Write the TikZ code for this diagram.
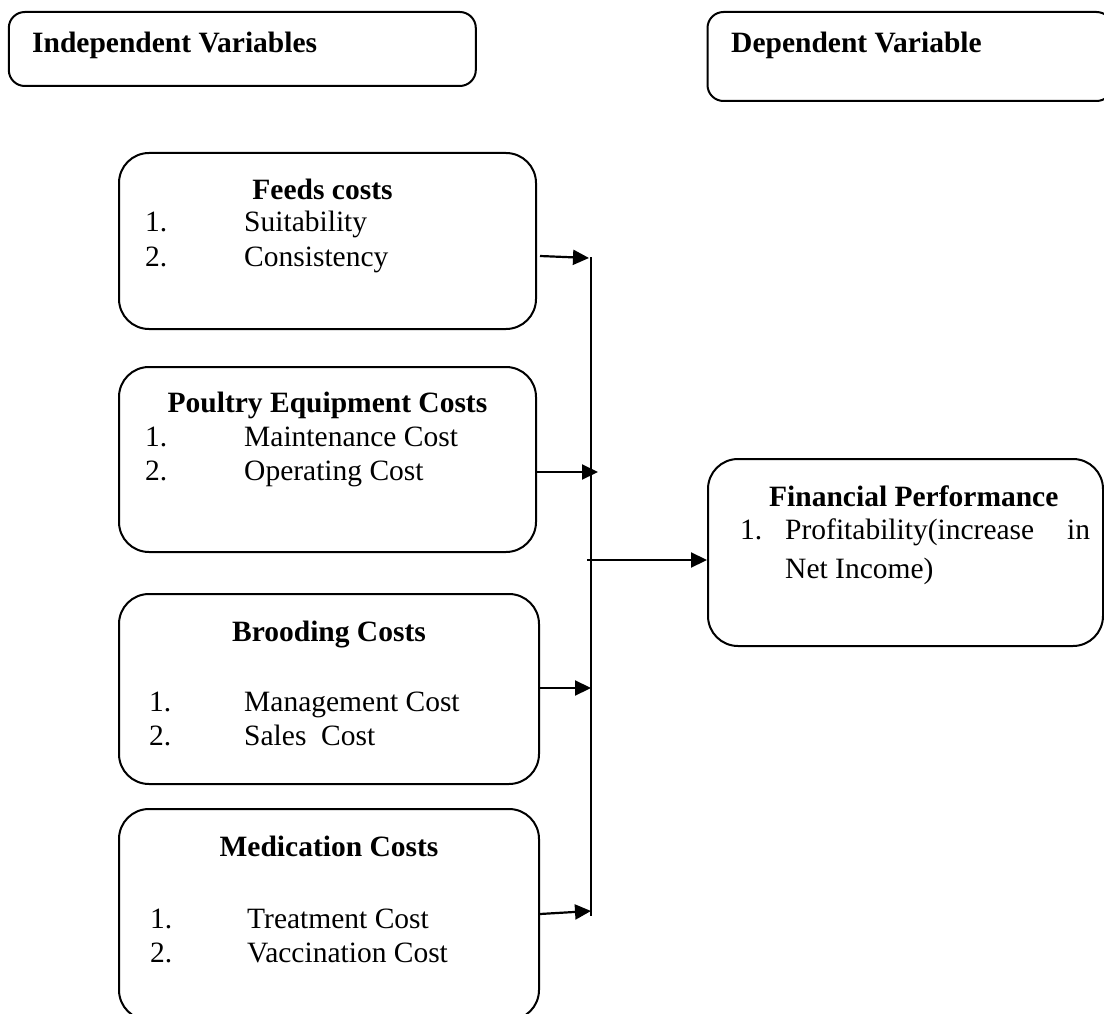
\documentclass[tikz,border=0pt]{standalone}
\usepackage{fontspec}
\setmainfont{Liberation Serif}
\usetikzlibrary{arrows.meta}
\begin{document}
\begin{tikzpicture}[x=1pt,y=-1pt,
  box/.style={draw, line width=2pt, rounded corners=30pt, inner sep=0pt},
  hbox/.style={draw, line width=2pt, rounded corners=16pt, inner sep=0pt},
  txt/.style={anchor=base west, inner sep=0pt, font=\fontsize{29.5}{34}\selectfont},
  ttl/.style={anchor=base, inner sep=0pt, font=\fontsize{29.5}{34}\selectfont\bfseries},
  ttlw/.style={anchor=base west, inner sep=0pt, font=\fontsize{29.5}{34}\selectfont\bfseries},
  arr/.style={line width=2.2pt, -{Triangle[length=16pt,width=15pt]}},
  ln/.style={line width=2pt}]
\useasboundingbox (0,0) rectangle (1104,1014);

% header boxes
\node[hbox, minimum width=467pt, minimum height=74pt] (indep) at (242.3,49) {};
\node[ttlw] (indept) at (32,53) {Independent Variables};
\node[hbox, minimum width=405pt, minimum height=89pt] (dep) at (910,56.5) {};
\node[ttlw] (dept) at (731,53) {Dependent Variable};

% feeds
\node[box, minimum width=417pt, minimum height=176pt] (feeds) at (327.5,241) {};
\node[ttl] (feedst) at (322.5,200) {Feeds costs};
\node[txt] (f1n) at (145,232) {1.};
\node[txt] (f1) at (244,232) {Suitability};
\node[txt] (f2n) at (145,266) {2.};
\node[txt] (f2) at (244,266) {Consistency};

% poultry
\node[box, minimum width=417pt, minimum height=185pt] (poultry) at (327.5,459.5) {};
\node[ttl] (poultryt) at (327.5,412) {Poultry Equipment Costs};
\node[txt] (p1n) at (145,446) {1.};
\node[txt] (p1) at (244,446) {Maintenance Cost};
\node[txt] (p2n) at (145,480) {2.};
\node[txt] (p2) at (244,480) {Operating Cost};

% brooding
\node[box, minimum width=420pt, minimum height=190pt] (brooding) at (329,689) {};
\node[ttl] (broodingt) at (329,641) {Brooding Costs};
\node[txt] (b1n) at (149,711) {1.};
\node[txt] (b1) at (244,711) {Management Cost};
\node[txt] (b2n) at (149,745) {2.};
\node[txt] (b2) at (244,745) {Sales\ \ Cost};

% medication
\node[box, minimum width=420pt, minimum height=211pt] (medication) at (329,914.5) {};
\node[ttl] (medicationt) at (329,856) {Medication Costs};
\node[txt] (m1n) at (150,928) {1.};
\node[txt] (m1) at (247,928) {Treatment Cost};
\node[txt] (m2n) at (150,962) {2.};
\node[txt] (m2) at (247,962) {Vaccination Cost};

% financial performance
\node[box, minimum width=395pt, minimum height=187pt] (financial) at (905.5,552.5) {};
\node[ttlw] (financialt) at (769,506) {Financial Performance};
\node[txt] (fp1n) at (740,539) {1.};
\node[txt] (fp1) at (785,539) {Profitability(increase};
\node[txt] (fp1b) at (1067,539) {in};
\node[txt] (fp2) at (785,578) {Net Income)};

% bus
\coordinate (bustop) at (591,257);
\coordinate (busbot) at (591,916);
\draw[ln] (bustop) -- (busbot);
\coordinate (bf) at (589,258);
\coordinate (bp) at (598,472);
\coordinate (bb) at (591,688);
\coordinate (bm) at (591,911);
\coordinate (fa) at (587,560);

\draw[arr] (feeds.east) ++(3,15) -- (bf);
\draw[arr] (poultry.east) ++(0,12.5) -- (bp);
\draw[arr] (brooding.east) ++(0,-1) -- (bb);
\draw[arr] (medication.east) ++(0,-0.5) -- (bm);
\draw[arr] (fa) -- (financial.west |- fa);
\end{tikzpicture}
\end{document}
